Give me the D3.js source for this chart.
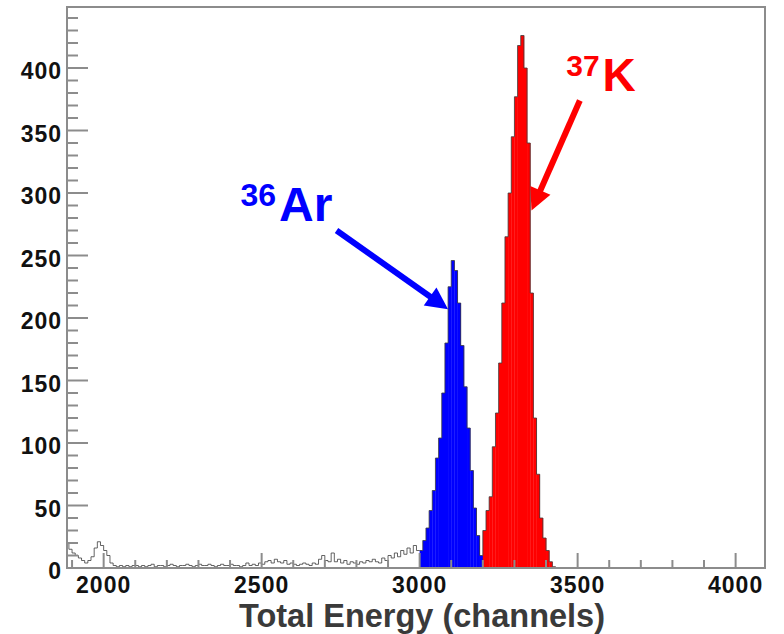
<!DOCTYPE html>
<html>
<head>
<meta charset="utf-8">
<script src="https://cdn.jsdelivr.net/npm/d3@7"></script>
<style>
  body { margin: 0; background: #fff; }
  svg { display: block; font-family: "Liberation Sans", Arial, sans-serif; }
</style>
</head>
<body>
<div id="chart"></div>
<script>
// histogram: 10-channel bins starting at 1880
const binStart = 1880;
const binWidth = 10;

// 1880 .. 2990, drawn as outline only
const background = [
  20, 15, 12, 10, 8, 6, 4, 6, 9, 16, 21, 18, 14, 10, 4, 2,
  1, 2, 1, 2, 1, 2,
  2, 1, 2, 1, 2, 3, 1, 2, 2, 1,
  2, 3, 2, 1, 2, 2, 3, 2, 1, 2,
  3, 2, 2, 3, 2, 1, 2, 3, 2, 2,
  3, 2, 2, 1, 2, 4, 2, 3, 2, 4,
  3, 5, 6, 4, 7, 5, 4, 6, 3, 4,
  3, 2, 3, 4, 3, 2, 4, 3, 7, 10,
  6, 5, 12, 5, 7, 4, 6, 3, 5, 4,
  3, 5, 4, 6, 5, 7, 5, 4, 8, 6,
  10, 8, 12, 9, 14, 11, 16, 12, 18, 14
];
// 3000 .. 3190, 36Ar
const arPeak = [14, 22, 32, 46, 62, 88, 104, 140, 180, 225, 246, 238, 212, 178, 145, 112, 78, 48, 26, 10];
// 3200 .. 3420, 37K
const kPeak = [30, 46, 57, 97, 124, 164, 212, 265, 300, 345, 377, 418, 426, 400, 340, 220, 120, 75, 40, 24, 14, 5, 1];

const xTicks = [2000, 2500, 3000, 3500, 4000];
const yTicks = [0, 50, 100, 150, 200, 250, 300, 350, 400];
const xTitle = "Total Energy (channels)";

const labels = [
  { iso: "36", sym: "Ar", ch: 2433, val: 278, color: "#0000ff", isoSize: 32, symSize: 48 },
  { iso: "37", sym: "K", ch: 3464, val: 382, color: "#ff0000", isoSize: 30, symSize: 46 }
];
const arrows = [
  { from: [2737, 270], to: [3090, 207], color: "#0000ff" },
  { from: [3507, 374], to: [3354, 286], color: "#ff0000" }
];

const counts = background.concat(arPeak, kPeak);
const bins = counts.map((v, i) => ({ x0: binStart + i * binWidth, v: v }));
const arStart = binStart + background.length * binWidth;
const kStart = arStart + arPeak.length * binWidth;

const W = 784, H = 634;
const frame = { left: 67, right: 765, top: 7, bottom: 568 };

const svg = d3.select("#chart").append("svg")
  .attr("width", W).attr("height", H);

const x = d3.scaleLinear().domain([1884, 4093]).range([frame.left, frame.right]);
const y = d3.scaleLinear().domain([0, 448.8]).range([frame.bottom, frame.top]);

svg.append("clipPath").attr("id", "plot-clip")
  .append("rect")
  .attr("x", frame.left).attr("y", frame.top)
  .attr("width", frame.right - frame.left).attr("height", frame.bottom - frame.top);

const plot = svg.append("g").attr("clip-path", "url(#plot-clip)");

// coloured fills
plot.selectAll("rect.ar")
  .data(bins.filter(d => d.x0 >= arStart && d.x0 < kStart))
  .enter().append("rect")
  .attr("class", "ar")
  .attr("x", d => x(d.x0))
  .attr("width", d => x(d.x0 + binWidth) - x(d.x0) + 0.3)
  .attr("y", d => y(d.v))
  .attr("height", d => y(0) - y(d.v))
  .attr("fill", "#0000ff");

plot.selectAll("rect.k")
  .data(bins.filter(d => d.x0 >= kStart))
  .enter().append("rect")
  .attr("class", "k")
  .attr("x", d => x(d.x0))
  .attr("width", d => x(d.x0 + binWidth) - x(d.x0) + 0.3)
  .attr("y", d => y(d.v))
  .attr("height", d => y(0) - y(d.v))
  .attr("fill", "#ff0000");

// histogram outline
const last = bins[bins.length - 1];
const stepPts = bins.concat([{ x0: last.x0 + binWidth, v: 0 }]);
const step = d3.line()
  .x(d => x(d.x0))
  .y(d => y(d.v))
  .curve(d3.curveStepAfter);

plot.append("path")
  .datum(stepPts)
  .attr("d", step)
  .attr("fill", "none")
  .attr("stroke", "#3c3c3c")
  .attr("stroke-width", 0.8);

// frame
const axisColor = "#8c8c8c";
svg.append("rect")
  .attr("x", frame.left).attr("y", frame.top)
  .attr("width", frame.right - frame.left).attr("height", frame.bottom - frame.top)
  .attr("fill", "none")
  .attr("stroke", axisColor)
  .attr("stroke-width", 2);

// x ticks
const xMinor = d3.range(1900, 4100, 100);
svg.append("g").selectAll("line")
  .data(xMinor)
  .enter().append("line")
  .attr("x1", d => x(d)).attr("x2", d => x(d))
  .attr("y1", frame.bottom).attr("y2", d => frame.bottom - (d % 500 === 0 ? 15 : 8))
  .attr("stroke", axisColor).attr("stroke-width", 2);

svg.append("g").selectAll("text")
  .data(xTicks)
  .enter().append("text")
  .attr("x", d => x(d))
  .attr("y", 593)
  .attr("text-anchor", "middle")
  .attr("font-size", 23)
  .attr("font-weight", "bold")
  .attr("letter-spacing", 1)
  .attr("fill", "#111")
  .text(d => d);

// y ticks
const yMinor = d3.range(0, 450, 10);
svg.append("g").selectAll("line")
  .data(yMinor)
  .enter().append("line")
  .attr("x1", frame.left).attr("x2", d => frame.left + (d % 50 === 0 ? 21 : 11))
  .attr("y1", d => y(d)).attr("y2", d => y(d))
  .attr("stroke", axisColor).attr("stroke-width", 2);

svg.append("g").selectAll("text")
  .data(yTicks)
  .enter().append("text")
  .attr("x", 62)
  .attr("y", d => y(d) + 11)
  .attr("text-anchor", "end")
  .attr("font-size", 23)
  .attr("font-weight", "bold")
  .attr("letter-spacing", 1)
  .attr("fill", "#111")
  .text(d => d);

svg.append("text")
  .attr("x", 422).attr("y", 627)
  .attr("text-anchor", "middle")
  .attr("font-size", 32.5)
  .attr("font-weight", "bold")
  .attr("fill", "#3a3a3a")
  .text(xTitle);

// arrows
arrows.forEach(a => {
  const x1 = x(a.from[0]), y1 = y(a.from[1]);
  const x2 = x(a.to[0]), y2 = y(a.to[1]);
  const len = Math.hypot(x2 - x1, y2 - y1);
  const ux = (x2 - x1) / len, uy = (y2 - y1) / len;
  const headLen = 22, headHalf = 11;
  const bx = x2 - ux * headLen, by = y2 - uy * headLen;
  svg.append("line")
    .attr("x1", x1).attr("y1", y1)
    .attr("x2", bx + ux * 2).attr("y2", by + uy * 2)
    .attr("stroke", a.color).attr("stroke-width", 6);
  svg.append("polygon")
    .attr("points", [
      [x2, y2],
      [bx - uy * headHalf, by + ux * headHalf],
      [bx + uy * headHalf, by - ux * headHalf]
    ].map(p => p.join(",")).join(" "))
    .attr("fill", a.color);
});

// isotope labels
labels.forEach(l => {
  const t = svg.append("text")
    .attr("x", x(l.ch)).attr("y", y(l.val))
    .attr("fill", l.color)
    .attr("font-weight", "bold");
  t.append("tspan").attr("font-size", l.isoSize).attr("dy", -15).text(l.iso);
  t.append("tspan").attr("font-size", l.symSize).attr("dx", 3).attr("dy", 15).text(l.sym);
});
</script>
</body>
</html>
